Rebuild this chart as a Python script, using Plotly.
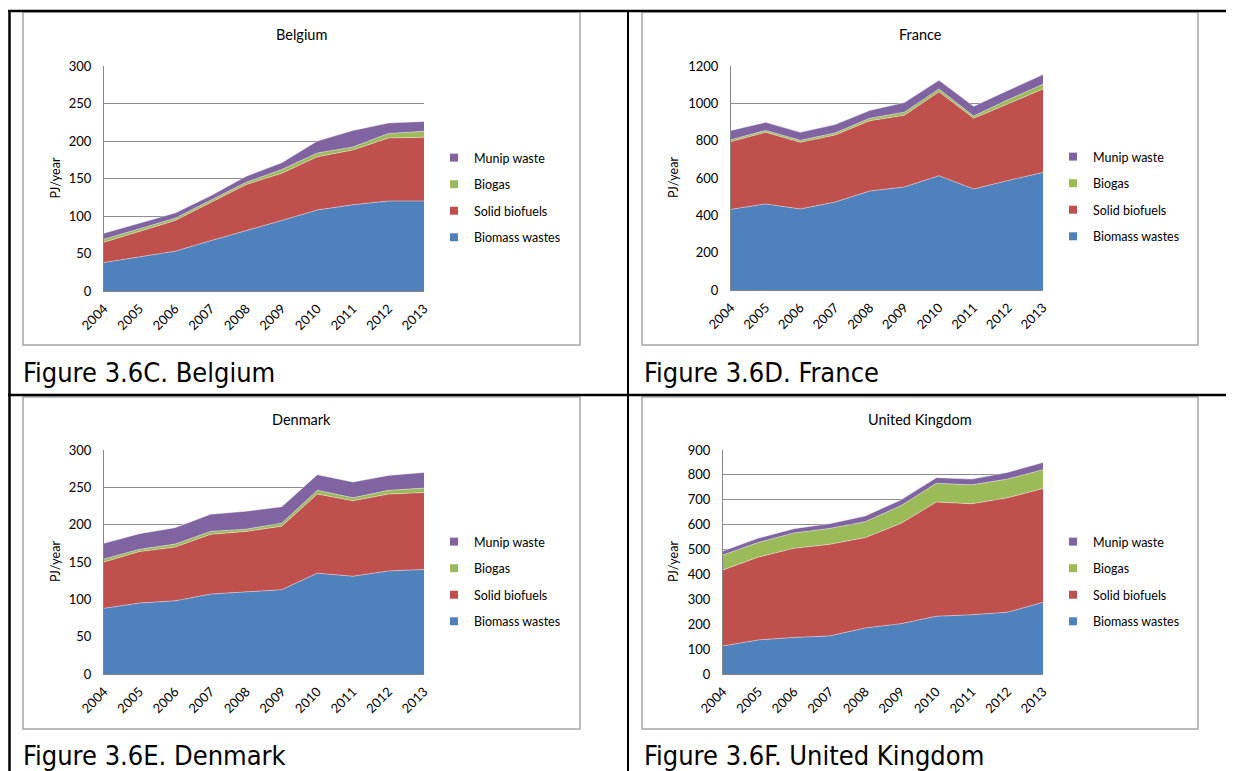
import plotly.graph_objects as go

# the page body has an 8px margin, so the figure is a bit smaller than the window
PAGE_OFF = 8
FW, FH = 1234 - PAGE_OFF, 771 - PAGE_OFF

years = [2004, 2005, 2006, 2007, 2008, 2009, 2010, 2011, 2012, 2013]
series_names = ["Biomass wastes", "Solid biofuels", "Biogas", "Munip waste"]
colors = ["#4F81BD", "#C0504D", "#9BBB59", "#8064A2"]

# Belgium, PJ/year
be_biomass = [38, 45, 53, 67, 80, 94, 108, 115, 120, 120]
be_solid = [27, 35, 41, 51, 62, 63, 71, 73, 84, 85]
be_biogas = [4, 3, 3, 3, 3, 5, 5, 4, 6, 8]
be_munip = [8, 8, 7, 6, 8, 9, 16, 22, 14, 13]

# France
fr_biomass = [432, 461, 434, 471, 530, 552, 612, 541, 587, 630]
fr_solid = [363, 384, 357, 359, 377, 384, 450, 379, 411, 447]
fr_biogas = [10, 10, 11, 11, 13, 16, 15, 12, 22, 25]
fr_munip = [50, 43, 43, 45, 42, 52, 46, 52, 50, 52]

# Denmark
dk_biomass = [88, 95, 98, 107, 110, 113, 135, 131, 138, 140]
dk_solid = [62, 69, 72, 80, 81, 85, 106, 101, 103, 103]
dk_biogas = [4, 3, 4, 4, 3, 4, 5, 4, 5, 6]
dk_munip = [21, 21, 22, 23, 24, 22, 21, 21, 20, 21]

# United Kingdom
uk_biomass = [113, 137, 147, 153, 185, 202, 232, 238, 248, 288]
uk_solid = [305, 333, 358, 368, 363, 403, 459, 446, 460, 457]
uk_biogas = [60, 59, 62, 64, 64, 71, 75, 76, 75, 76]
uk_munip = [16, 17, 17, 19, 23, 23, 23, 23, 27, 29]

y_max = [300, 1200, 300, 900]
y_step = [50, 200, 50, 100]
titles = ["Belgium", "France", "Denmark", "United Kingdom"]
captions = ["Figure 3.6C. Belgium", "Figure 3.6D. France",
            "Figure 3.6E. Denmark", "Figure 3.6F. United Kingdom"]
panels = [
    [be_biomass, be_solid, be_biogas, be_munip],
    [fr_biomass, fr_solid, fr_biogas, fr_munip],
    [dk_biomass, dk_solid, dk_biogas, dk_munip],
    [uk_biomass, uk_solid, uk_biogas, uk_munip],
]

def px(x):
    return (x - PAGE_OFF) / FW

def py(y):
    return 1 - (y - PAGE_OFF) / FH

# page-pixel layout of each panel: plot area, chart box, legend, caption
plot_boxes = [(104, 424, 66, 291), (731, 1043, 66, 290),
              (104, 424, 450, 674), (723, 1043, 450, 674)]
chart_boxes = [(23, 580, 12, 345), (642, 1198, 12, 345),
               (23, 580, 397, 729), (642, 1198, 397, 729)]
title_y = [35, 35, 420, 420]
ytitle_x = [55, 673, 55, 673]
legend_pos = [(434, 143), (1053, 142), (434, 527), (1053, 527)]
caption_pos = [(21, 372), (642, 372), (21, 755), (642, 755)]

chart_font = "Lato"
fig = go.Figure()
annotations = []
shapes = []

for i, vals in enumerate(panels):
    n = "" if i == 0 else str(i + 1)
    xa, ya = "x" + n, "y" + n
    leg = "legend" + n
    for k, name in enumerate(series_names):
        fig.add_trace(go.Scatter(
            x=years, y=vals[k], name=name, mode="lines",
            stackgroup="s" + str(i), line=dict(width=0.8, color="rgba(255,255,255,0.5)"),
            fillcolor=colors[k], xaxis=xa, yaxis=ya, showlegend=False,
            hoverinfo="x+y+name"))
    # legend entries, top to bottom as in the original (Munip waste first)
    for k in reversed(range(len(series_names))):
        name = series_names[k]
        fig.add_trace(go.Scatter(
            x=[None], y=[None], name=name, mode="markers",
            marker=dict(symbol="square", size=8, color=colors[k]),
            xaxis=xa, yaxis=ya, legend=leg, legendgroup=name + str(i),
            showlegend=True))

    x0, x1, y0, y1 = plot_boxes[i]
    axis_x = dict(domain=[px(x0), px(x1)], range=[2004, 2013],
                  tickvals=years, tickangle=-45, showgrid=False,
                  showline=True, linecolor="#868686", linewidth=1,
                  ticks="", ticklabelstandoff=4,
                  tickfont=dict(family=chart_font, size=13, color="#000"),
                  anchor=ya, zeroline=False, fixedrange=True, automargin=False)
    axis_y = dict(domain=[py(y1), py(y0)], range=[0, y_max[i]],
                  dtick=y_step[i], showgrid=True, gridcolor="#8C8C8C",
                  gridwidth=1, showline=True, linecolor="#868686",
                  linewidth=1, ticks="", zeroline=False, ticklabelstandoff=9,
                  tickfont=dict(family=chart_font, size=13, color="#000"),
                  anchor=xa, fixedrange=True, automargin=False)
    fig.update_layout(**{"xaxis" + n: axis_x, "yaxis" + n: axis_y})

    lx, ly = legend_pos[i]
    fig.update_layout(**{leg: dict(
        x=px(lx), y=py(ly), xanchor="left", yanchor="top",
        traceorder="grouped", tracegroupgap=7.3,
        font=dict(family=chart_font, size=12.5, color="#000"),
        bgcolor="rgba(0,0,0,0)", borderwidth=0, itemwidth=30)})

    cx0, cx1, cy0, cy1 = chart_boxes[i]
    shapes.append(dict(type="rect", xref="paper", yref="paper",
                       x0=px(cx0), x1=px(cx1), y0=py(cy1), y1=py(cy0),
                       line=dict(color="#A6A6A6", width=1.5)))
    annotations.append(dict(text=titles[i], x=px((cx0 + cx1) / 2), y=py(title_y[i]),
                            xref="paper", yref="paper", xanchor="center", yanchor="middle",
                            showarrow=False, font=dict(family=chart_font, size=14.5, color="#000")))
    annotations.append(dict(text="PJ/year", x=px(ytitle_x[i]), y=py((y0 + y1) / 2),
                            xref="paper", yref="paper", xanchor="center", yanchor="middle",
                            textangle=-90, showarrow=False,
                            font=dict(family=chart_font, size=12.5, color="#000")))
    capx, capy = caption_pos[i]
    annotations.append(dict(text=captions[i], x=px(capx), y=py(capy), xref="paper",
                            yref="paper", xanchor="left", yanchor="middle",
                            showarrow=False,
                            font=dict(family="DejaVu Sans Condensed", size=27, color="#000")))

# table rules
black = dict(color="#000", width=2.5)
shapes += [
    dict(type="line", xref="paper", yref="paper", x0=px(8), x1=1, y0=py(11), y1=py(11), line=black),
    dict(type="line", xref="paper", yref="paper", x0=px(9.5), x1=px(9.5), y0=0, y1=py(10), line=black),
    dict(type="line", xref="paper", yref="paper", x0=px(628), x1=px(628), y0=0, y1=py(10),
         line=dict(color="#000", width=2)),
    dict(type="line", xref="paper", yref="paper", x0=px(8), x1=1, y0=py(395), y1=py(395), line=black),
]

fig.update_layout(width=FW, height=FH, margin=dict(l=0, r=0, t=0, b=0),
                  paper_bgcolor="white", plot_bgcolor="white",
                  shapes=shapes, annotations=annotations)

fig.write_html("out.html")
